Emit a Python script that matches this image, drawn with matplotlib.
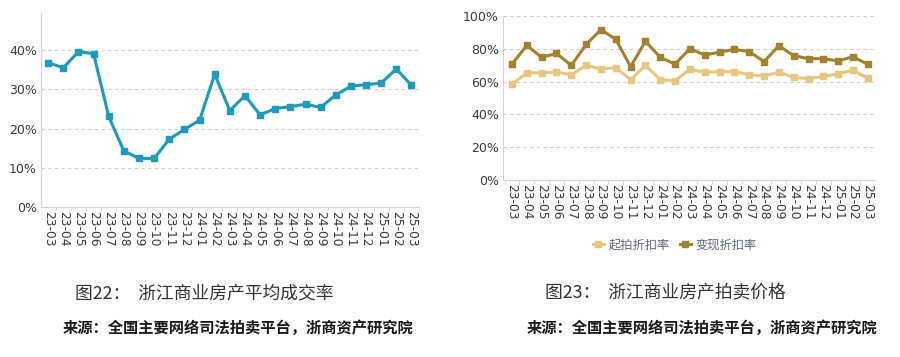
import matplotlib
matplotlib.use("Agg")
import matplotlib.pyplot as plt
import numpy as np
from matplotlib.ticker import FixedLocator, PercentFormatter

plt.rcParams["font.family"] = ["Noto Sans CJK SC", "DejaVu Sans"]
plt.rcParams["axes.unicode_minus"] = False

months = ["23-03", "23-04", "23-05", "23-06", "23-07", "23-08", "23-09", "23-10", "23-11", "23-12",
          "24-01", "24-02", "24-03", "24-04", "24-05", "24-06", "24-07", "24-08", "24-09", "24-10",
          "24-11", "24-12", "25-01", "25-02", "25-03"]

# 图22 平均成交率 (%)
deal_rate = [36.8, 35.5, 39.6, 39.1, 23.1, 14.3, 12.4, 12.4, 17.3, 19.8,
             22.1, 33.8, 24.6, 28.4, 23.5, 25.1, 25.6, 26.2, 25.4, 28.6,
             30.8, 31.2, 31.6, 35.2, 31.0]

# 图23 拍卖价格 (%)
start_discount = [58.3, 65.4, 65.4, 65.9, 64.2, 69.9, 67.7, 68.5, 61.2, 69.9,
                  61.2, 60.6, 67.5, 65.7, 66.1, 66.1, 64.2, 63.4, 65.7, 62.6,
                  61.8, 63.2, 64.8, 66.9, 62.0]
realized_discount = [70.7, 82.1, 74.8, 77.2, 69.9, 82.7, 91.7, 85.8, 69.1, 84.6,
                     74.8, 70.7, 80.1, 76.2, 78.0, 79.7, 78.3, 72.2, 81.9, 75.8,
                     74.0, 74.0, 72.6, 75.2, 70.5]

TEAL = "#1A9CC0"
DARK_GOLD = "#A3822A"
LIGHT_GOLD = "#E8C77A"
GRID = "#CFCFCF"
SPINE = "#D4D4D4"
TICK_TXT = "#3A3A3A"


def style_axes(ax, yticks):
    x = np.arange(len(months))
    ax.set_xticks(x)
    ax.set_xticklabels(months, rotation=270, fontsize=8.8, color=TICK_TXT, family=["DejaVu Sans"])
    ax.xaxis.set_minor_locator(FixedLocator(np.arange(-0.5, len(months), 1.0)))
    ax.tick_params(axis="x", which="major", length=0, pad=3)
    ax.tick_params(axis="x", which="minor", length=3, color=SPINE)
    ax.set_yticks(yticks)
    ax.yaxis.set_major_formatter(PercentFormatter(decimals=0))
    ax.tick_params(axis="y", length=0, pad=3, labelsize=9, labelcolor=TICK_TXT)
    for t in ax.get_yticklabels():
        t.set_family(["DejaVu Sans"])
    for g in yticks[1:]:
        ax.axhline(g, color=GRID, linestyle=(0, (3, 3)), linewidth=0.8, zorder=0)
    ax.spines["top"].set_visible(False)
    ax.spines["right"].set_visible(False)
    ax.spines["left"].set_color(SPINE)
    ax.spines["bottom"].set_color(SPINE)


fig = plt.figure(figsize=(9, 3.57), dpi=100)

ax1 = fig.add_axes([0.0456, 0.420, 0.420, 0.544])
x = np.arange(len(months))
ax1.plot(x, deal_rate, color=TEAL, linewidth=2.2, marker="s", markersize=4.4)
ax1.set_xlim(-0.47, 24.5)
ax1.set_ylim(0, 49.5)
style_axes(ax1, [0, 10, 20, 30, 40])

ax2 = fig.add_axes([0.559, 0.496, 0.413, 0.459])
ax2.plot(x, start_discount, color=LIGHT_GOLD, linewidth=2.2, marker="s", markersize=4.4, label="起拍折扣率")
ax2.plot(x, realized_discount, color=DARK_GOLD, linewidth=2.2, marker="s", markersize=4.4, label="变现折扣率")
ax2.set_xlim(-0.6, 24.47)
ax2.set_ylim(0, 100)
style_axes(ax2, [0, 20, 40, 60, 80, 100])

fig.legend(loc="center", bbox_to_anchor=(0.75, 0.313), ncol=2, frameon=False,
           fontsize=8.8, handlelength=0.9, handletextpad=0.4, columnspacing=0.8,
           labelcolor="#5A6A85")

fig.text(75 / 900, 1 - 293 / 357, "图22：  浙江商业房产平均成交率", fontsize=12.8,
         color="#333333", va="center", ha="left")
fig.text(545 / 900, 1 - 293 / 357, "图23：  浙江商业房产拍卖价格", fontsize=12.8,
         color="#333333", va="center", ha="left")
fig.text(63 / 900, 1 - 328 / 357, "来源：全国主要网络司法拍卖平台，浙商资产研究院", fontsize=11,
         color="#1A1A1A", fontweight="bold", va="center", ha="left")
fig.text(527 / 900, 1 - 328 / 357, "来源：全国主要网络司法拍卖平台，浙商资产研究院", fontsize=11,
         color="#1A1A1A", fontweight="bold", va="center", ha="left")

fig.savefig("out.png", dpi=100, facecolor="white")
